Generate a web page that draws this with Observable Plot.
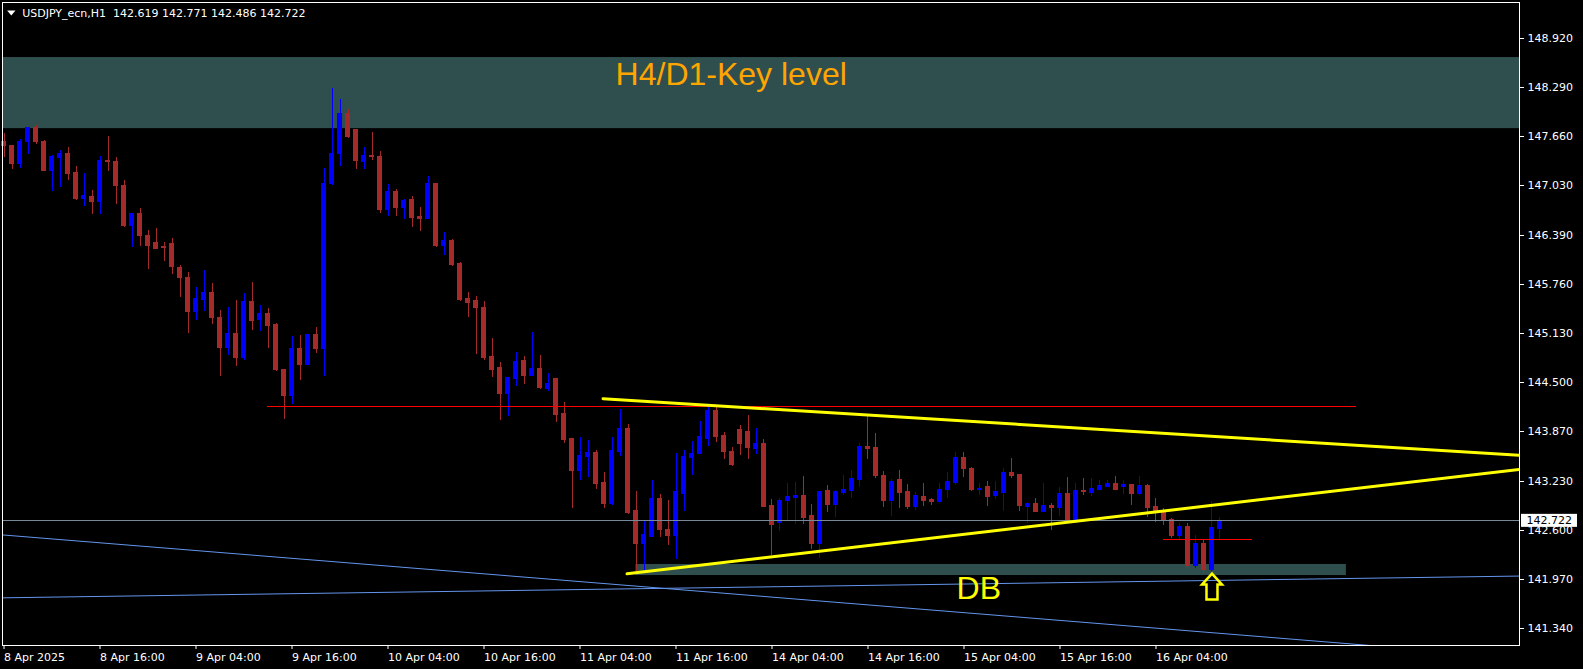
<!DOCTYPE html>
<html>
<head>
<meta charset="utf-8">
<script src="https://cdn.jsdelivr.net/npm/d3@7"></script>
<script src="https://cdn.jsdelivr.net/npm/@observablehq/plot@0.6"></script>
<style>
html, body { margin: 0; padding: 0; background: #000; }
#chart svg { display: block; }
</style>
</head>
<body>
<div id="chart"></div>
<script>
// ---------- data (USDJPY H1, bar 0 = 8 Apr 2025 04:00) ----------
const symbolName = "USDJPY_ecn,H1";

const opens = [
147.600,147.549,147.309,147.592,147.768,147.600,147.227,147.386,147.437,147.189,
146.867,146.893,146.820,147.356,147.343,147.022,146.520,146.662,146.391,146.289,
146.241,146.276,145.980,145.851,145.406,145.568,145.646,145.337,144.943,145.119,
144.814,145.534,145.303,145.376,145.247,144.668,144.325,144.926,144.720,145.106,
144.926,147.060,147.438,147.952,147.742,147.335,147.420,147.395,146.717,146.949,
146.743,146.846,146.624,146.598,147.048,146.263,146.315,146.019,145.569,145.543,
145.453,144.823,144.682,144.347,144.540,144.772,144.579,144.669,144.412,144.540,
144.090,143.769,143.357,143.537,143.589,143.203,142.933,143.605,143.909,142.855,
142.418,142.520,143.009,142.610,142.533,143.073,143.524,143.588,143.781,144.141,
143.819,143.601,143.884,143.871,143.652,143.704,142.919,142.688,142.971,143.022,
143.048,142.778,142.430,143.100,142.920,143.074,143.100,143.241,143.678,143.653,
143.305,142.971,143.241,143.087,142.894,143.035,142.988,142.958,143.113,143.215,
143.524,143.383,143.125,143.151,143.048,143.074,143.331,143.318,142.906,142.945,
142.842,142.919,142.881,143.061,142.726,143.112,143.086,143.125,143.163,143.202,
143.151,143.189,143.061,143.176,142.906,142.842,142.739,142.533,142.649,142.147,
142.430,142.096,142.619];

const highs = [
147.699,147.550,147.622,147.768,147.802,147.609,147.416,147.485,147.523,147.279,
147.193,146.970,147.407,147.665,147.395,147.099,146.670,146.739,146.456,146.482,
146.301,146.353,146.006,145.916,145.723,145.941,145.774,145.431,145.466,145.560,
145.646,145.792,145.491,145.453,145.260,144.668,145.097,145.106,145.106,145.209,
147.253,148.282,148.141,148.012,147.742,147.523,147.721,147.472,147.052,146.983,
146.855,146.893,146.752,147.151,147.061,146.431,146.341,146.045,145.659,145.608,
145.543,145.068,144.759,144.553,144.887,144.836,145.145,144.849,144.617,144.553,
144.244,143.781,143.794,143.756,143.627,143.344,143.794,144.154,143.961,143.099,
142.726,143.241,143.061,142.983,143.588,143.626,143.742,143.999,144.179,144.179,
143.858,143.665,143.948,144.077,143.909,143.768,142.996,143.009,143.202,143.215,
143.292,142.932,143.099,143.177,143.113,143.305,143.370,143.717,144.064,143.846,
143.357,143.254,143.370,143.190,143.087,143.203,143.010,143.203,143.344,143.601,
143.601,143.408,143.203,143.228,143.228,143.396,143.524,143.318,142.958,143.009,
143.202,142.945,143.151,143.279,143.202,143.266,143.266,143.241,143.241,143.292,
143.241,143.189,143.292,143.189,143.009,142.881,142.752,142.688,142.688,142.533,
142.469,142.971,142.771];

const lows = [
147.399,147.240,147.257,147.437,147.566,147.215,146.957,147.009,147.103,146.842,
146.764,146.666,146.666,147.215,146.790,146.499,146.241,146.250,145.954,146.211,
146.057,145.890,145.594,145.131,145.303,145.414,145.251,144.583,144.848,144.711,
144.788,145.174,145.157,144.943,144.643,144.025,144.223,144.531,144.720,144.874,
144.583,147.035,147.283,147.643,147.240,147.240,147.360,146.675,146.640,146.640,
146.597,146.499,146.444,146.598,146.238,146.135,145.993,145.543,145.338,144.862,
144.785,144.566,144.013,144.064,144.450,144.476,144.579,144.412,144.386,143.987,
143.717,142.881,143.241,143.280,143.126,142.881,142.920,143.554,142.803,142.057,
142.083,142.520,142.508,142.405,142.225,142.842,143.305,143.575,143.678,143.729,
143.511,143.421,143.562,143.511,143.575,142.893,142.276,142.585,142.713,142.675,
142.675,142.353,142.238,142.830,142.765,143.048,143.010,143.151,143.511,143.267,
142.894,142.778,142.881,142.868,142.855,142.907,142.920,142.945,143.010,143.177,
143.280,143.100,143.048,142.907,142.997,142.843,143.267,142.843,142.688,142.842,
142.829,142.598,142.778,142.713,142.713,143.048,143.035,143.112,143.151,143.125,
143.061,142.919,143.048,142.765,142.700,142.662,142.495,142.482,142.109,142.109,
142.045,142.070,142.486];

const closes = [
147.540,147.309,147.600,147.768,147.592,147.227,147.395,147.437,147.180,146.867,
146.906,146.820,147.356,147.335,147.022,146.520,146.662,146.379,146.263,146.224,
146.229,145.984,145.843,145.406,145.581,145.646,145.329,144.943,145.119,144.814,
145.534,145.290,145.376,145.234,144.660,144.325,144.926,144.720,145.106,144.926,
147.060,147.438,147.952,147.652,147.348,147.420,147.395,146.717,146.949,146.743,
146.829,146.615,146.598,147.048,146.263,146.315,146.006,145.556,145.518,145.453,
144.810,144.656,144.347,144.553,144.759,144.579,144.669,144.425,144.476,144.077,
143.756,143.357,143.550,143.589,143.190,142.933,143.614,143.909,142.829,142.418,
142.546,143.009,142.610,142.533,143.099,143.549,143.588,143.794,144.141,143.806,
143.601,143.446,143.716,143.665,143.704,142.906,142.675,142.983,143.035,143.048,
142.765,142.430,143.099,142.920,143.087,143.113,143.254,143.678,143.640,143.293,
142.971,143.228,143.074,142.894,143.048,142.971,142.963,143.125,143.228,143.524,
143.383,143.125,143.138,143.035,143.087,143.331,143.305,142.907,142.945,142.842,
142.919,142.881,143.061,142.726,143.112,143.099,143.138,143.176,143.202,143.125,
143.189,143.061,143.176,142.893,142.855,142.726,142.533,142.649,142.147,142.430,
142.096,142.636,142.722];

const xTickIndex  = [0, 12, 24, 36, 48, 60, 72, 84, 96, 108, 120, 132, 144];
const xTickLabels = ["8 Apr 2025", "8 Apr 16:00", "9 Apr 04:00", "9 Apr 16:00", "10 Apr 04:00",
  "10 Apr 16:00", "11 Apr 04:00", "11 Apr 16:00", "14 Apr 04:00", "14 Apr 16:00",
  "15 Apr 04:00", "15 Apr 16:00", "16 Apr 04:00"];
const yTickValues = [148.92, 148.29, 147.66, 147.03, 146.39, 145.76, 145.13, 144.50, 143.87, 143.23, 142.60, 141.97, 141.34];

// analysis objects (bar index, price)
const keyZone      = [148.680, 147.766];            // H4/D1 key level band (price)
const dbZoneBars   = [79.0, 167.8];                 // DB zone bars
const dbZonePrices = [142.019, 142.161];            // DB zone prices
const redLevel     = [{i: 32.93, p: 144.189}, {i: 168.9, p: 144.189}];
const redShort     = [{i: 144.9, p: 142.478}, {i: 155.9, p: 142.478}];
const upperYellow  = [{i: 74.88, p: 144.292}, {i: 189.44, p: 143.565}];
const lowerYellow  = [{i: 77.88, p: 142.041}, {i: 189.44, p: 143.384}];
const blueFalling  = [{i: -0.19, p: 142.541}, {i: 189.44, p: 140.964}];
const blueRising   = [{i: -0.19, p: 141.732}, {i: 189.44, p: 142.012}];
const labels = [
  {text: "H4/D1-Key level", i: 90.9, p: 148.46, color: "#ffa500"},
  {text: "DB", i: 121.85, p: 141.843, color: "#ffff00"}
];
const arrowBar = [151];

// ---------- chart ----------
const candles = opens.map((o, i) => ({i, open: o, high: highs[i], low: lows[i], close: closes[i]}));
const BULL = "#0000ff", BEAR = "#a52a2a";
const col = d => d.close >= d.open ? BULL : BEAR;
const last = candles[candles.length - 1];
const fmt = d3.format(".3f");
const xDomain = [-0.19, 189.44];
const labelMap = new Map(xTickIndex.map((d, k) => [d, xTickLabels[k]]));
const title = symbolName + "\u00a0\u00a0" + [last.open, last.high, last.low, last.close].map(fmt).join(" ");

const upArrow = {
  draw(ctx, size) {
    const s = Math.sqrt(size / Math.PI) / 13;
    ctx.moveTo(0, -13 * s); ctx.lineTo(10 * s, -2 * s); ctx.lineTo(5.5 * s, -2 * s);
    ctx.lineTo(5.5 * s, 13 * s); ctx.lineTo(-5.5 * s, 13 * s); ctx.lineTo(-5.5 * s, -2 * s);
    ctx.lineTo(-10 * s, -2 * s); ctx.closePath();
  }
};
const downTriangle = {
  draw(ctx, size) {
    const s = Math.sqrt(size / Math.PI) / 4;
    ctx.moveTo(-4.2 * s, -2.5 * s); ctx.lineTo(4.2 * s, -2.5 * s); ctx.lineTo(0, 2.5 * s); ctx.closePath();
  }
};

const priceTag = (index, scales, values, dims) => {
  const yy = scales.y(last.close);
  const x0 = scales.x(xDomain[1]) + 2;
  const g = d3.create("svg:g");
  g.append("rect").attr("x", x0).attr("y", yy - 6.5).attr("width", 56).attr("height", 13).attr("fill", "#fff");
  g.append("text").attr("x", x0 + 5.5).attr("y", yy).attr("dy", "0.36em").attr("text-anchor", "start")
    .attr("fill", "#000").attr("font-family", "DejaVu Sans").attr("font-size", 11).text(fmt(last.close));
  return g.node();
};

const chart = Plot.plot({
  width: 1583,
  height: 669,
  marginLeft: 2,
  marginRight: 64,
  marginTop: 2,
  marginBottom: 24,
  style: {background: "#000", color: "#fff", fontFamily: "DejaVu Sans", fontSize: "11px"},
  x: {domain: xDomain, axis: null},
  y: {domain: [141.119, 149.388], axis: null},
  color: {type: "identity"},
  marks: [
    Plot.rect([keyZone], {x1: xDomain[0], x2: xDomain[1], y1: d => d[0], y2: d => d[1], fill: "#2f4f4f"}),
    Plot.rect([0], {x1: () => dbZoneBars[0], x2: () => dbZoneBars[1], y1: () => dbZonePrices[0], y2: () => dbZonePrices[1], fill: "#2f4f4f"}),
    Plot.ruleX(candles, {x: "i", y1: "low", y2: "high", stroke: col, strokeWidth: 1, shapeRendering: "crispEdges"}),
    Plot.rect(candles, {x1: d => d.i - 0.3125, x2: d => d.i + 0.3125, y1: "open", y2: "close",
      fill: col, insetTop: -0.5, insetBottom: -0.5, shapeRendering: "crispEdges"}),
    Plot.ruleY([last.close], {stroke: "#778899", strokeWidth: 1, shapeRendering: "crispEdges"}),
    Plot.line(blueFalling, {x: "i", y: "p", stroke: "#6495ed", strokeWidth: 1, clip: true}),
    Plot.line(blueRising, {x: "i", y: "p", stroke: "#6495ed", strokeWidth: 1, clip: true}),
    Plot.line(redLevel, {x: "i", y: "p", stroke: "#ff0000", strokeWidth: 1, shapeRendering: "crispEdges"}),
    Plot.line(redShort, {x: "i", y: "p", stroke: "#ff0000", strokeWidth: 1, shapeRendering: "crispEdges"}),
    Plot.line(upperYellow, {x: "i", y: "p", stroke: "#ffff00", strokeWidth: 3, clip: true}),
    Plot.line(lowerYellow, {x: "i", y: "p", stroke: "#ffff00", strokeWidth: 3, clip: true}),
    Plot.text(labels, {x: "i", y: "p", text: "text", fill: "color", fontSize: 32,
      fontFamily: "Liberation Sans", textAnchor: "middle", lineAnchor: "middle"}),
    Plot.dot(arrowBar, {x: d => d, y: d => lows[d], dy: 15, symbol: upArrow, r: 13,
      stroke: "#ffff00", strokeWidth: 2.5, fill: "none"}),
    Plot.frame({stroke: "#fff", shapeRendering: "crispEdges"}),
    Plot.axisY(yTickValues, {anchor: "right", tickSize: 4, tickPadding: 4, tickFormat: fmt,
      label: null, fontSize: 11, shapeRendering: "crispEdges"}),
    Plot.axisX(xTickIndex, {anchor: "bottom", tickSize: 4, tickPadding: 4, textAnchor: "start",
      tickFormat: d => labelMap.get(d), label: null, fontSize: 11}),
    Plot.dot([0], {frameAnchor: "top-left", dx: 8.8, dy: 10.5, symbol: downTriangle, r: 4, fill: "#fff", stroke: "none"}),
    Plot.text([title], {frameAnchor: "top-left", dx: 19.7, dy: 6.9, textAnchor: "start", lineAnchor: "top",
      fill: "#fff", fontSize: 11, fontFamily: "DejaVu Sans"}),
    priceTag
  ]
});
document.getElementById("chart").appendChild(chart);
</script>
</body>
</html>
